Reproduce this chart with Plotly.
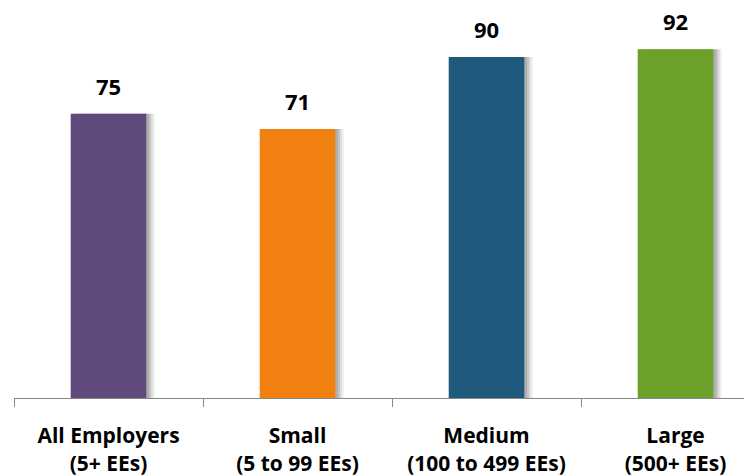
import plotly.graph_objects as go

categories = ["All Employers<br>(5+ EEs)", "Small<br>(5 to 99 EEs)", "Medium<br>(100 to 499 EEs)", "Large<br>(500+ EEs)"]
values = [75, 71, 90, 92]
colors = ["#604a7b", "#f0800f", "#1f5a7c", "#6ba02a"]

FONT = "'Open Sans', sans-serif"

fig = go.Figure()
# soft shadow layers
for dx, alpha in [(0.045, 0.06), (0.035, 0.08), (0.025, 0.10), (0.015, 0.12)]:
    fig.add_trace(go.Bar(x=categories, y=values, width=0.4, offset=-0.2 + dx,
                         marker=dict(color=f"rgba(0,0,0,{alpha})", line=dict(width=0)),
                         hoverinfo="skip", showlegend=False))
fig.add_trace(go.Bar(x=categories, y=values, width=0.4, offset=-0.2,
                     marker=dict(color=colors, line=dict(width=0)), showlegend=False))

for c, v in zip(categories, values):
    fig.add_annotation(x=c, y=v, text=f"<b>{v}</b>", showarrow=False, yanchor="middle",
                       yshift=28, font=dict(family=FONT, size=22, color="#000"))

fig.update_layout(
    width=752, height=476, barmode="overlay",
    margin=dict(l=6, r=0, t=11, b=86, autoexpand=False),
    plot_bgcolor="white", paper_bgcolor="white",
    xaxis=dict(range=[-0.5, 3.447], showline=True, linecolor="#888888", linewidth=1,
               ticks="outside", tickson="boundaries", ticklen=8, tickcolor="#888888",
               tickfont=dict(family=FONT, size=21, color="#000"), ticklabelstandoff=19,
               automargin=False, showgrid=False,
               tickvals=categories, ticktext=[f"<b>{c}</b>" for c in categories]),
    yaxis=dict(range=[0, 100], visible=False, showgrid=False, automargin=False),
)
fig.write_html("out.html")
